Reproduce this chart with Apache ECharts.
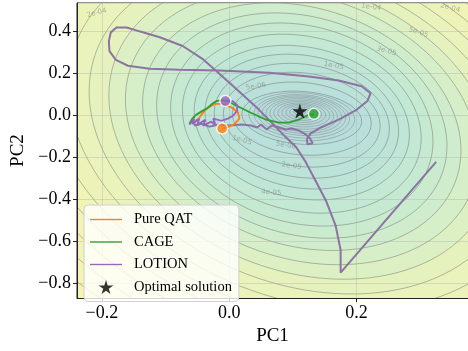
<!DOCTYPE html>
<html>
<head>
<meta charset="utf-8">
<script src="https://cdn.jsdelivr.net/npm/echarts@6/dist/echarts.min.js"></script>
<style>
html,body{margin:0;padding:0;background:#fff;}
#chart{width:468px;height:351px;}
</style>
</head>
<body>
<div id="chart"></div>
<script>
// loss landscape contour rings (inner -> outer), PC1/PC2 units
var ringCx = 0.114;
var ringA = [0.006,0.0125,0.019,0.025,0.031,0.0375,0.044,0.05,0.056,0.0625,0.069,0.075,0.083,
  0.094,0.109,0.123,0.1375,0.152,0.169,0.1875,0.206,0.228,0.25,0.277,0.303,0.334,0.367,0.403,0.442,0.484,0.531,0.581,0.633];
var ringB = [0.0085,0.017,0.026,0.035,0.043,0.051,0.06,0.069,0.078,0.086,0.094,0.103,0.114,
  0.126,0.173,0.224,0.271,0.318,0.364,0.421,0.477,0.528,0.579,0.64,0.701,0.762,0.827,0.893,0.963,1.037,1.117,1.201,1.29];
var ringCy = [0.015,0.014,0.012,0.01,0.008,0.006,0.004,0.002,0.0,-0.001,-0.003,-0.006,-0.008,
  -0.013,-0.017,-0.022,-0.027,-0.031,-0.036,-0.041,-0.045,-0.05,-0.055,-0.059,-0.064,-0.069,-0.073,-0.078,-0.083,-0.087,-0.092,-0.097,-0.101];
// tilt of each ring (screen shear)
var ringTilt = [0.05,0.05,0.05,0.05,0.05,0.05,0.05,0.05,0.05,0.05,0.05,0.05,0.05,
  0.06,0.07,0.08,0.09,0.1,0.11,0.12,0.13,0.14,0.15,0.16,0.17,0.18,0.19,0.2,0.21,0.22,0.23,0.24,0.25];

var contourLabels = [
  [-0.208,0.487,'2e-04',15],[0.223,0.515,'1e-04',-8],[0.347,0.511,'2e-04',-15],
  [0.297,0.394,'5e-05',-18],[0.247,0.305,'3e-05',-15],[0.164,0.235,'1e-05',-10],
  [0.042,0.137,'5e-06',10],[0.020,-0.120,'1e-05',-15],[0.089,-0.144,'5e-06',-10],
  [0.098,-0.242,'2e-05',-8],[0.066,-0.369,'4e-05',-5]
];

// trajectories
var pureQat = [[-0.055,-0.036],[-0.047,-0.013],[-0.039,0.020],[-0.031,0.039],[-0.023,0.053],[-0.011,0.053],
  [0.005,0.034],[0.014,0.011],[0.016,-0.017],[0.009,-0.041],[0.0,-0.055],[-0.011,-0.064]];
var cage = [[-0.0625,-0.041],[-0.058,-0.017],[-0.052,0.001],[-0.042,0.020],[-0.034,0.034],[-0.027,0.053],
  [-0.020,0.067],[-0.0125,0.071],[-0.003,0.067],[0.0125,0.043],[0.034,0.011],[0.058,-0.022],[0.078,-0.036],
  [0.094,-0.036],[0.109,-0.022],[0.122,-0.003],[0.133,0.006]];
var lotion = [[-0.0625,-0.046],[-0.055,-0.017],[-0.058,-0.041],[-0.047,-0.017],[-0.050,-0.046],[-0.0375,-0.022],
  [-0.041,-0.050],[-0.028,-0.031],[-0.022,-0.050],[-0.025,-0.017],[-0.0125,-0.027],[-0.002,-0.017],
  [0.006,-0.003],[0.0125,0.020],[0.0125,0.048],[0.005,0.067],[-0.006,0.067]];
var wide = [[0.325,-0.223],[0.175,-0.751],[0.175,-0.643],[0.167,-0.525],[0.152,-0.408],[0.136,-0.315],
  [0.120,-0.223],[0.105,-0.152],[0.089,-0.106],[0.047,0.025],[0.0,0.155],[-0.042,0.268],[-0.073,0.329],
  [-0.109,0.371],[-0.141,0.399],[-0.161,0.417],[-0.177,0.417],[-0.186,0.394],[-0.189,0.352],[-0.188,0.305],
  [-0.178,0.263],[-0.159,0.235],[-0.125,0.221],[-0.078,0.216],[-0.016,0.212],[0.063,0.202],[0.125,0.184],
  [0.172,0.165],[0.208,0.137],[0.222,0.104],[0.217,0.067],[0.200,0.025],[0.172,-0.022],[0.144,-0.059],
  [0.128,-0.087],[0.122,-0.115],[0.123,-0.139],[0.131,-0.134],[0.127,-0.111],[0.120,-0.092],[0.109,-0.073],
  [0.098,-0.064],[0.089,-0.069],[0.078,-0.059],[0.067,-0.050],[0.059,-0.069],[0.050,-0.045],[0.044,-0.059],
  [0.034,-0.050],[0.020,-0.045],[0.0,-0.050],[-0.016,-0.045],[-0.031,-0.055],[-0.044,-0.041],[-0.053,-0.050],
  [-0.059,-0.031]];
var optimum = [0.111, 0.019];

var SERIF = '"Liberation Serif","DejaVu Serif",serif';
var stops = [[0,'#b3d3d8'],[0.094,'#b8dedb'],[0.17,'#bfe6d6'],[0.25,'#cfedcd'],[0.30,'#dcf0c4'],
  [0.334,'#e6f2bd'],[0.40,'#edf3b8'],[0.48,'#f2f4b5'],[0.63,'#f5f4b2']];
var LINE_ICON = 'path://M0,0 L40,0 L40,1.7 L0,1.7 Z';

function hex(c){return [parseInt(c.substr(1,2),16),parseInt(c.substr(3,2),16),parseInt(c.substr(5,2),16)];}
function fillFor(a){
  for (var k=1;k<stops.length;k++){
    if (a<=stops[k][0]){
      var f=(a-stops[k-1][0])/(stops[k][0]-stops[k-1][0]);
      var p=hex(stops[k-1][1]), q=hex(stops[k][1]);
      return 'rgb('+Math.round(p[0]+(q[0]-p[0])*f)+','+Math.round(p[1]+(q[1]-p[1])*f)+','+Math.round(p[2]+(q[2]-p[2])*f)+')';
    }
  }
  return stops[stops.length-1][1];
}
function tickFmt(v){
  var s = Math.abs(v).toFixed(1);
  return v < -1e-9 ? '\u2212' + s : s;
}

var ringData = [];
for (var i=ringA.length-1;i>=0;i--) ringData.push([ringCx, ringCy[i], i]);

var mychart = echarts.init(document.getElementById('chart'));
var axisCommon = {
  type:'value', z:1,
  axisLine:{show:true,onZero:false,lineStyle:{color:'#222',width:1}},
  axisTick:{show:true,inside:false,length:4,lineStyle:{color:'#222'}},
  splitLine:{show:true,lineStyle:{color:'rgba(170,170,170,0.35)',width:1}},
  nameTextStyle:{fontFamily:SERIF,fontSize:19,color:'#000'},
  axisLabel:{fontFamily:SERIF,fontSize:18,color:'#000',showMinLabel:false,showMaxLabel:false,margin:6,formatter:tickFmt}
};
var option = {
  animation:false,
  grid:{left:77,top:3,right:-2,bottom:47,show:true,borderColor:'#222',borderWidth:1},
  xAxis:Object.assign({}, axisCommon, {min:-0.239,max:0.375,splitNumber:3,name:'PC1',nameLocation:'middle',nameGap:26}),
  yAxis:Object.assign({}, axisCommon, {min:-0.872,max:0.534,splitNumber:7,name:'PC2',nameLocation:'middle',nameGap:38}),
  legend:{
    left:84, top:205, orient:'vertical',
    data:[
      {name:'Pure QAT',icon:LINE_ICON},
      {name:'CAGE',icon:LINE_ICON},
      {name:'LOTION',icon:LINE_ICON},
      {name:'Optimal solution'}
    ],
    itemWidth:32, itemHeight:14, itemGap:7.5,
    padding:[7,7,7,6],
    backgroundColor:'rgba(255,255,255,0.8)', borderColor:'#d0d0d0', borderWidth:1, borderRadius:4,
    textStyle:{fontFamily:SERIF,fontSize:14.5,color:'#000',padding:[0,0,0,7]}
  },
  series:[
    {
      type:'custom', z:0, clip:true, silent:true,
      data:ringData,
      renderItem:function(params, api){
        var i = ringData[params.dataIndex][2];
        var c = api.coord([ringCx, ringCy[i]]);
        var s = api.size([1,1]);
        var ax = ringA[i]*s[0], by = ringB[i]*s[1];
        var pts = [];
        for (var t=0;t<120;t++){
          var th = t/120*Math.PI*2;
          var dx = ax*Math.cos(th);
          pts.push([c[0]+dx, c[1]+by*Math.sin(th)+ringTilt[i]*dx]);
        }
        return {type:'polygon', shape:{points:pts},
          style:{fill:fillFor(ringA[i]), stroke:'rgba(95,95,95,0.42)', lineWidth:i<13?0.8:1}};
      }
    },
    {
      type:'custom', z:1, clip:true, silent:true,
      data:contourLabels.map(function(d){return [d[0],d[1]];}),
      renderItem:function(params, api){
        var d = contourLabels[params.dataIndex];
        var p = api.coord([d[0],d[1]]);
        return {type:'text', x:p[0], y:p[1], rotation:d[3]*Math.PI/180,
          style:{text:d[2], fill:'rgba(120,120,120,0.55)', font:'7px "DejaVu Sans",sans-serif', align:'center', verticalAlign:'middle'}};
      }
    },
    {type:'line', name:'', data:wide, symbol:'none', z:3,
      lineStyle:{color:'#8b74a1',width:2}},
    {type:'line', name:'Pure QAT', data:pureQat, symbol:'none', z:4, color:'#ff7f0e',
      lineStyle:{color:'#ff7f0e',width:1.8}},
    {type:'line', name:'CAGE', data:cage, symbol:'none', z:4, color:'#2ca02c',
      lineStyle:{color:'#2ca02c',width:1.8}},
    {type:'line', name:'LOTION', data:lotion, symbol:'none', z:4, color:'#9467bd',
      lineStyle:{color:'#9467bd',width:1.8}},
    {type:'scatter', name:'ends', z:5, symbol:'circle', symbolSize:11,
      data:[
        {value:pureQat[pureQat.length-1], itemStyle:{color:'#ff7f0e'}},
        {value:cage[cage.length-1], itemStyle:{color:'#2ca02c'}},
        {value:lotion[lotion.length-1], itemStyle:{color:'#9467bd'}}
      ],
      itemStyle:{borderColor:'#fff',borderWidth:1.5}},
    {type:'scatter', name:'Optimal solution', z:5, data:[optimum], color:'#000',
      symbol:'path://M50,0 L61,35 L98,35 L68,57 L79,91 L50,70 L21,91 L32,57 L2,35 L39,35 Z',
      symbolSize:15, itemStyle:{color:'#000'}}
  ]
};
mychart.setOption(option);
</script>
</body>
</html>
